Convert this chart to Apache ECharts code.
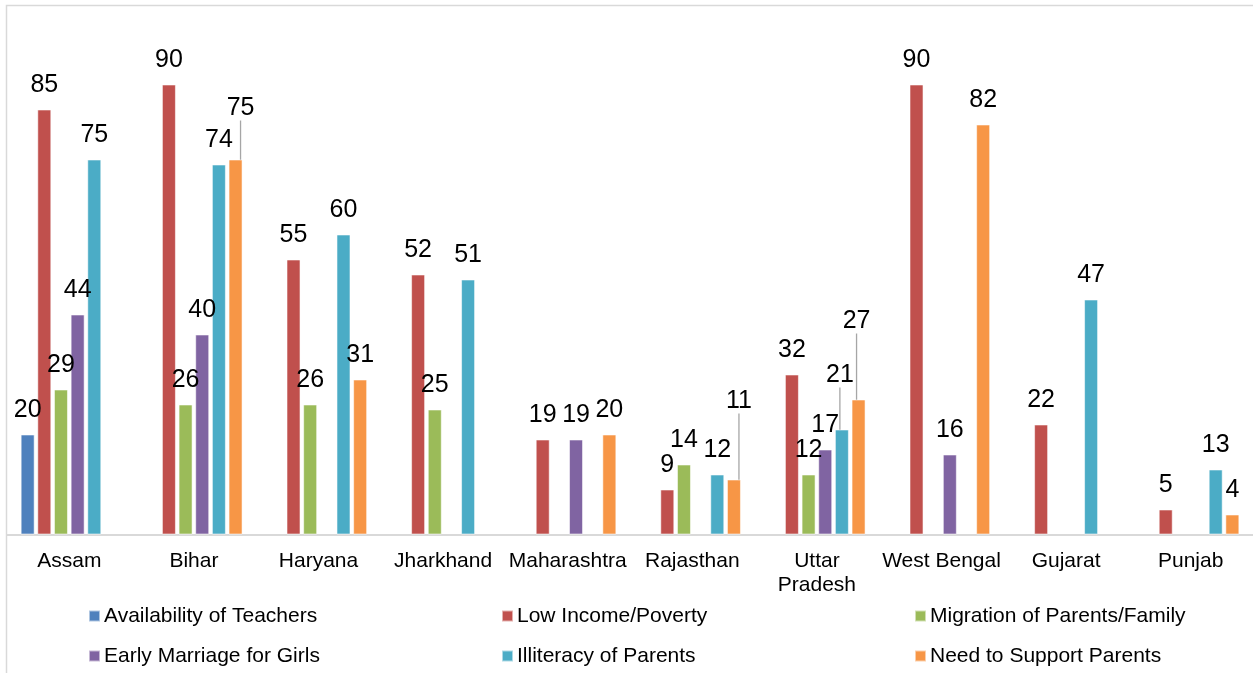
<!DOCTYPE html>
<html>
<head>
<meta charset="utf-8">
<script src="https://cdn.jsdelivr.net/npm/echarts@6/dist/echarts.min.js"></script>
<style>
  html, body { margin: 0; padding: 0; background: #ffffff; }
  #chart { width: 1253px; height: 673px; }
</style>
</head>
<body>
<div id="chart"></div>
<script>
// States surveyed
const categories = ['Assam', 'Bihar', 'Haryana', 'Jharkhand', 'Maharashtra', 'Rajasthan', 'Uttar\nPradesh', 'West Bengal', 'Gujarat', 'Punjab'];

// Reasons for dropping out, per state (null = not reported)
const availabilityOfTeachers = [20, null, null, null, null, null, null, null, null, null];
const lowIncomePoverty       = [85, 90, 55, 52, 19, 9, 32, 90, 22, 5];
const migrationOfParents     = [29, 26, 26, 25, null, 14, 12, null, null, null];
const earlyMarriageForGirls  = [44, 40, null, null, 19, null, 17, 16, null, null];
const illiteracyOfParents    = [75, 74, 60, 51, null, 12, 21, null, 47, 13];
const needToSupportParents   = [null, 75, 31, null, 20, 11, 27, 82, null, 4];

const seriesNames = [
  'Availability of Teachers',
  'Low Income/Poverty',
  'Migration of Parents/Family',
  'Early Marriage for Girls',
  'Illiteracy of Parents',
  'Need to Support Parents'
];
const seriesValues = [
  availabilityOfTeachers,
  lowIncomePoverty,
  migrationOfParents,
  earlyMarriageForGirls,
  illiteracyOfParents,
  needToSupportParents
];
const seriesColors = ['#4F81BD', '#C0504D', '#9BBB59', '#8064A2', '#4BACC6', '#F79646'];

// Labels pulled away from crowded bars: [seriesIndex][dataIndex] -> [dx, dy]
const movedLabels = {
  4: { 6: [-2, -30] },
  5: { 1: [5, -27], 5: [5, -54], 6: [-2, -54] }
};

// Legend grid: three columns, two rows
const legendSlots = [
  [88, 605.5], [501, 605.5], [914, 605.5],
  [88, 645.5], [501, 645.5], [914, 645.5]
];

const FONT = "'Liberation Sans', Arial, sans-serif";

const chart = echarts.init(document.getElementById('chart'), null, { renderer: 'canvas' });

const series = seriesNames.map((name, si) => ({
  name: name,
  type: 'bar',
  barWidth: 14,
  barGap: '19%',
  itemStyle: {
    color: seriesColors[si],
    borderColor: 'rgba(255,255,255,0.55)',
    borderWidth: 1
  },
  label: {
    show: true,
    position: 'top',
    distance: 12,
    color: '#000000',
    fontFamily: FONT,
    fontSize: 25
  },
  labelLine: {
    show: false,
    lineStyle: { color: '#a6a6a6', width: 1.3 }
  },
  labelLayout: (params) => {
    const m = movedLabels[params.seriesIndex];
    const off = m && m[params.dataIndex];
    return off ? { dx: off[0], dy: off[1] } : {};
  },
  data: seriesValues[si].map((v, di) => {
    if (v == null) return null;
    const m = movedLabels[si];
    if (m && m[di]) return { value: v, labelLine: { show: true } };
    return v;
  })
}));

const legends = seriesNames.map((name, i) => ({
  data: [name],
  left: legendSlots[i][0],
  top: legendSlots[i][1],
  orient: 'horizontal',
  padding: 0,
  icon: 'rect',
  itemWidth: 11,
  itemHeight: 11,
  selectedMode: false,
  textStyle: { fontFamily: FONT, fontSize: 21, color: '#000000', padding: [0, 0, 0, -1] }
}));

chart.setOption({
  animation: false,
  backgroundColor: '#ffffff',
  color: seriesColors,
  graphic: [{
    type: 'rect',
    silent: true,
    shape: { x: 6.5, y: 5.5, width: 1300, height: 700 },
    style: { fill: 'none', stroke: '#d9d9d9', lineWidth: 1.5 }
  }],
  legend: legends,
  grid: { left: 7, top: 34.5, width: 1247, height: 500, containLabel: false },
  xAxis: {
    type: 'category',
    data: categories,
    axisLine: { show: true, lineStyle: { color: '#d9d9d9', width: 2 } },
    axisTick: { show: false },
    axisLabel: {
      interval: 0,
      margin: 15,
      color: '#000000',
      fontFamily: FONT,
      fontSize: 21,
      lineHeight: 24
    },
    splitLine: { show: false }
  },
  yAxis: {
    type: 'value',
    min: 0,
    max: 100,
    show: false,
    splitLine: { show: false }
  },
  series: series
});
</script>
</body>
</html>
